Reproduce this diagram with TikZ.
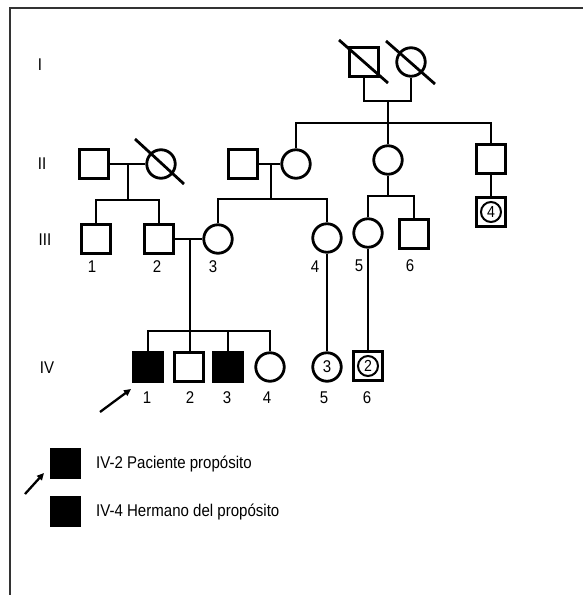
\documentclass[tikz,border=0pt]{standalone}
\usepackage{fontspec}
\setmainfont{Liberation Sans}[FakeStretch=0.885]
\usetikzlibrary{arrows.meta}
\begin{document}
\begin{tikzpicture}[x=1pt,y=-1pt,
  pl/.style={line width=2.8pt},
  male/.style={draw, line width=2.8pt, rectangle, minimum size=28.5pt, inner sep=0pt},
  female/.style={draw, line width=2.8pt, circle, minimum size=28.5pt, inner sep=0pt, font=\fontsize{17}{19}\selectfont},
  inner/.style={draw, line width=2pt, circle, minimum size=20pt, inner sep=0pt, font=\fontsize{16}{18}\selectfont},
  aff/.style={fill=black},
  lbl/.style={font=\fontsize{17}{19}\selectfont, inner sep=0pt},
  arr/.style={line width=2.3pt, -{Triangle[length=7pt,width=6.5pt]}}]
\useasboundingbox (0,0) rectangle (583,595);
\fill[white] (0,0) rectangle (583,595);
\draw[line width=1.3pt, black!80] (10,595) -- (10,8) -- (583,8);

% generation labels
\node[lbl] (gI) at (40,65) {I};
\node[lbl] (gII) at (42,164) {II};
\node[lbl] (gIII) at (45,240) {III};
\node[lbl] (gIV) at (47,368) {IV};

% generation I
\node[male] (I1) at (364,62) {};
\node[female] (I2) at (411,62) {};
\draw[pl] ([shift={(-25,-22)}]I1.center) -- ([shift={(24,21)}]I1.center);
\draw[pl] ([shift={(-25,-21)}]I2.center) -- ([shift={(24,22)}]I2.center);
\coordinate (mI) at (388,101);
\coordinate (sI) at (388,123);
\draw[pl] (I1.south) |- (mI) -| (I2.south);
\draw[pl] (mI) -- (sI);

% generation II
\node[male] (II1) at (94,164) {};
\node[female] (II2) at (161,164) {};
\node[male] (II3) at (243,164) {};
\node[female] (II4) at (296,164) {};
\node[female] (II5) at (388,160) {};
\node[male] (II6) at (491,159) {};
\draw[pl] ([shift={(-26,-25)}]II2.center) -- ([shift={(23,20)}]II2.center);
\draw[pl] (II4.north) |- (sI) -| (II6.north);
\draw[pl] (sI) -- (II5.north);

\draw[pl] (II1.east) -- (II2.west);
\coordinate (mII1) at (128,164);
\coordinate (sII1) at (128,200);
\draw[pl] (mII1) -- (sII1);

\draw[pl] (II3.east) -- (II4.west);
\coordinate (mII2) at (271,164);
\coordinate (sII2) at (271,199);
\draw[pl] (mII2) -- (sII2);

\coordinate (sII3) at (388,196);
\draw[pl] (II5.south) -- (sII3);

% generation III
\node[male] (III1) at (96,239) {};
\node[male] (III2) at (159,239) {};
\node[female] (III3) at (218,239) {};
\node[female] (III4) at (327,238) {};
\node[female] (III5) at (368,233) {};
\node[male] (III6) at (414,234) {};
\node[male] (III7) at (491,212) {};
\node[inner] (III7c) at (III7.center) {4};

\draw[pl] (III1.north) |- (sII1) -| (III2.north);
\draw[pl] (III3.north) |- (sII2) -| (III4.north);
\draw[pl] (III5.north) |- (sII3) -| (III6.north);
\draw[pl] (II6.south) -- (III7.north);

\node[lbl] (nIII1) at (92,267) {1};
\node[lbl] (nIII2) at (157,267) {2};
\node[lbl] (nIII3) at (213,267) {3};
\node[lbl] (nIII4) at (315,267) {4};
\node[lbl] (nIII5) at (359,266) {5};
\node[lbl] (nIII6) at (410,266) {6};

\draw[pl] (III2.east) -- (III3.west);
\coordinate (mIII) at (190,239);
\coordinate (sIII) at (190,331);
\draw[pl] (mIII) -- (sIII);

% generation IV
\node[male, aff] (IV1) at (148,367) {};
\node[male] (IV2) at (189,367) {};
\node[male, aff] (IV3) at (228,367) {};
\node[female] (IV4) at (270,367) {};
\node[female] (IV5) at (327,367) {3};
\node[male] (IV6) at (368,366) {};
\node[inner] (IV6c) at (IV6.center) {2};

\draw[pl] (IV1.north) |- (sIII) -| (IV4.north);
\draw[pl] (sIII) -- (sIII |- IV2.north);
\draw[pl] (IV3.north) -- (IV3.north |- sIII);
\draw[pl] (III4.south) -- (IV5.north);
\draw[pl] (III5.south) -- (IV6.north);

\node[lbl] (nIV1) at (147,398) {1};
\node[lbl] (nIV2) at (190,398) {2};
\node[lbl] (nIV3) at (227,398) {3};
\node[lbl] (nIV4) at (267,398) {4};
\node[lbl] (nIV5) at (324,398) {5};
\node[lbl] (nIV6) at (367,398) {6};

\coordinate (pa) at (100,412);
\coordinate (pb) at (131,389);
\draw[arr] (pa) -- (pb);

% legend
\node[male, aff, draw=none, minimum size=31pt] (L1) at (65.5,463) {};
\node[male, aff, draw=none, minimum size=31pt] (L2) at (65.5,511) {};
\node[lbl, anchor=west] (T1) at (96,464) {IV-2 Paciente propósito};
\node[lbl, anchor=west] (T2) at (96,512) {IV-4 Hermano del propósito};
\coordinate (la) at (25,494);
\coordinate (lb) at (44,473);
\draw[arr] (la) -- (lb);
\end{tikzpicture}
\end{document}
